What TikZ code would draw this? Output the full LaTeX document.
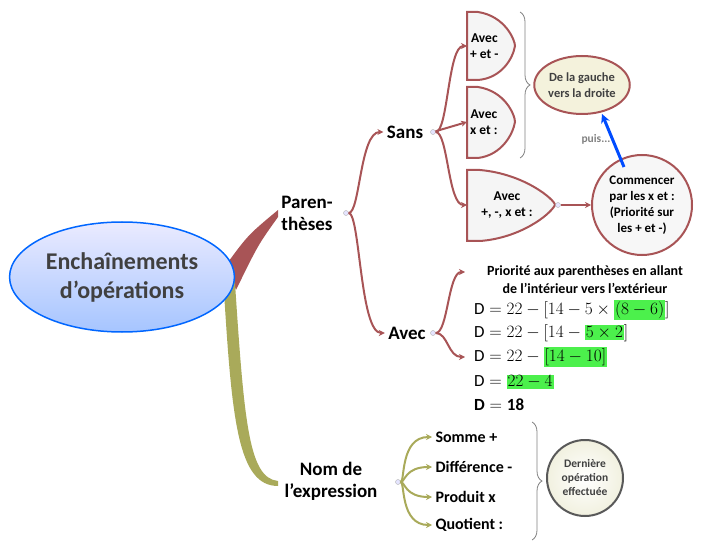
\documentclass[tikz,border=0pt]{standalone}
\usepackage{fontspec}
\setmainfont{Carlito}
\usetikzlibrary{arrows.meta,decorations.pathreplacing,shapes.geometric}
\definecolor{rb}{HTML}{A85456}
\definecolor{ol}{HTML}{A9AA5A}
\definecolor{cream}{HTML}{F4F2DC}
\definecolor{hl}{HTML}{4CF04C}
\setlength{\fboxsep}{1pt}
\begin{document}
\begin{tikzpicture}[x=1pt,y=-1pt,
  lbl/.style={font=\bfseries\fontsize{19}{22}\selectfont,align=center},
  sm/.style={font=\bfseries\fontsize{13.5}{16}\selectfont,align=center},
  op/.style={anchor=west,font=\bfseries\fontsize{16}{19}\selectfont},
  mk/.style={circle,draw=gray!60,fill=blue!10,inner sep=0,minimum size=5pt},
  rarr/.style={draw=rb,line width=2pt,-{Stealth[length=6pt,width=6pt]}},
  oarr/.style={draw=ol,line width=2pt,-{Stealth[length=6pt,width=6pt]}},
  half/.style={draw=rb,line width=2pt,fill=gray!8},
  eq/.style={anchor=west,font=\fontsize{17}{19}\selectfont,inner sep=0}]
\useasboundingbox (0,0) rectangle (704,553);
% branches
\fill[rb] (226,265) .. controls (248,235) .. (278,210) -- (278,217) .. controls (258,245) .. (236,290) -- cycle;
\fill[ol] (234,268) .. controls (244,420) and (248,478) .. (278,481) -- (278,486) .. controls (238,486) and (232,420) .. (224,292) -- cycle;
\node[ellipse,draw=blue!60!cyan,line width=1.5pt,top color=blue!8,bottom color=cyan!35!blue!35,minimum width=216pt,minimum height=110pt,font=\bfseries\fontsize{24}{29}\selectfont,text=black!75,align=center] (root) at (122,277) {Enchaînements\\d'opérations};
\node[lbl] (par) at (307,213) {Paren-\\thèses};
\node[lbl] (nom) at (331,481) {Nom de\\l'expression};
\node[mk] (m1) at (346,213) {};
\node[lbl] (sans) at (405,132) {Sans};
\node[lbl] (avec) at (407,333) {Avec};
\node[mk] (m2) at (433,132) {};
\node[mk] (m3) at (433,333) {};
\draw[rarr] (m1) .. controls (360,213) and (360,132) .. (sans.west);
\draw[rarr] (m1) .. controls (360,213) and (360,333) .. (avec.west);
% half shapes
\draw[half] (467,12) -- (478,12) .. controls (505,16) and (515,40) .. (515,46) .. controls (513,58) and (502,78) .. (478,80) -- (467,80) -- cycle;
\draw[half] (467,87) -- (478,87) .. controls (505,91) and (515,115) .. (515,122) .. controls (513,134) and (502,155) .. (478,158) -- (467,158) -- cycle;
\draw[half] (467,170) -- (480,170) .. controls (525,174) and (555,200) .. (555,205) .. controls (550,215) and (520,238) .. (480,241) -- (467,241) -- cycle;
\node[sm,anchor=west,inner sep=1pt] (s1) at (469,46) {Avec\\+ et -};
\node[sm,anchor=west,inner sep=1pt] (s2) at (469,122) {Avec\\x et :};
\node[sm] (s3) at (507,205) {Avec\\+, -, x et :};
\draw[rarr] (m2) .. controls (448,132) and (448,46) .. (467,46);
\draw[rarr] (m2) -- (467,122);
\draw[rarr] (m2) .. controls (448,132) and (448,205) .. (467,205);
\node[mk] (m4) at (558,205) {};
\node[circle,draw=rb,line width=2pt,fill=gray!6,minimum size=100pt,sm,font=\bfseries\fontsize{13}{16}\selectfont,inner sep=0] (cc) at (642,205) {Commencer\\par les x et :\\(Priorité sur\\les + et -)};
\draw[rarr] (m4) -- (cc);
\node[ellipse,draw=rb,line width=2pt,fill=cream,minimum width=92pt,minimum height=58pt,font=\bfseries\fontsize{12.5}{16}\selectfont,align=center,text=black!75,inner sep=0] (gd) at (582,85) {De la gauche\\vers la droite};
\coordinate (b0) at (624,167);
\coordinate (b1) at (602,114);
\draw[draw=blue!70!cyan,line width=3pt,-{Stealth[length=9pt,width=9pt]}] (b0) -- (b1);
\node[text=gray,font=\bfseries\fontsize{11.5}{13}\selectfont] (puis) at (596,139) {puis...};
\draw[gray,line width=0.8pt,decorate,decoration={brace,amplitude=10pt}] (520,12) -- (520,158);
% avec
\node[align=center,font=\bfseries\fontsize{14}{18}\selectfont] (prio) at (585,280) {Priorité aux parenthèses en allant\\de l'intérieur vers l'extérieur};
\draw[rarr] (m3) .. controls (448,333) and (448,272) .. (465,272);
\draw[rarr] (m3) .. controls (448,333) and (448,357) .. (465,357);
\node[eq] (e1) at (474,310) {$\mathrm{D}=22-[14-5\times\colorbox{hl}{$(8-6)$}]$};
\node[eq] (e2) at (474,333) {$\mathrm{D}=22-[14-\colorbox{hl}{$5\times2$}]$};
\node[eq] (e3) at (474,357) {$\mathrm{D}=22-\colorbox{hl}{$[14-10]$}$};
\node[eq] (e4) at (474,382) {$\mathrm{D}=\colorbox{hl}{$22-4$}$};
\node[eq] (e5) at (474,405) {$\mathbf{D}=\mathbf{18}$};
% nom
\node[mk] (m5) at (398,482) {};
\node[op] (o1) at (432,437) {Somme +};
\node[op] (o2) at (432,467) {Différence -};
\node[op] (o3) at (432,497) {Produit x};
\node[op] (o4) at (432,525) {Quotient :};
\draw[oarr] (m5) .. controls (405,482) and (400,437) .. (o1.west);
\draw[oarr] (m5) .. controls (405,482) and (405,467) .. (o2.west);
\draw[oarr] (m5) .. controls (405,482) and (405,497) .. (o3.west);
\draw[oarr] (m5) .. controls (405,482) and (400,525) .. (o4.west);
\draw[gray,line width=0.8pt,decorate,decoration={brace,amplitude=10pt}] (532,422) -- (532,540);
\node[circle,draw=gray!70!black,line width=2pt,inner color=white,outer color=cream!80!olive!40,minimum size=76pt,font=\bfseries\fontsize{11.5}{14}\selectfont,align=center,text=black!75,inner sep=0] (der) at (585,478) {Dernière\\opération\\effectuée};
\end{tikzpicture}
\end{document}
